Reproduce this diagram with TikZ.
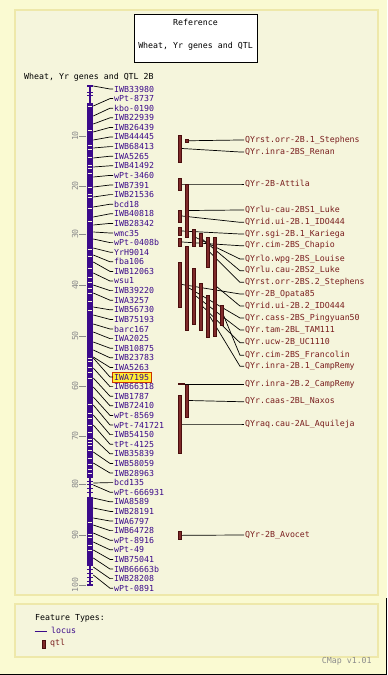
\documentclass[tikz,border=0pt]{standalone}
\usepackage{fontspec}
\newfontfamily\cmapfont{DejaVu Sans Mono}
\definecolor{outerbg}{HTML}{FAFAD2}
\definecolor{innerbg}{HTML}{F5F5DC}
\definecolor{panelborder}{HTML}{EEE8AA}
\definecolor{locuscol}{HTML}{3B0A8A}
\definecolor{qtlfill}{HTML}{7F2A2A}
\definecolor{qtledge}{HTML}{4A0E0E}
\definecolor{qtltext}{HTML}{7A1F1F}
\definecolor{axisgray}{HTML}{8C8C8C}
\definecolor{hlfill}{HTML}{FFEE33}
\definecolor{hledge}{HTML}{CC3300}
\begin{document}
\begin{tikzpicture}[x=1bp,y=-1bp,
  txt/.style={font=\cmapfont\fontsize{8.3}{9}\selectfont, inner sep=0pt},
  locuslabel/.style={txt, text=locuscol, anchor=west},
  qtllabel/.style={txt, text=qtltext, anchor=west},
  conn/.style={draw=black, line width=0.7bp},
  qtlbar/.style={draw=qtledge, fill=qtlfill, line width=0.6bp, minimum width=3.2bp, inner sep=0pt, rectangle},
  notch/.style={draw=innerbg, line width=0.9bp},
  cross/.style={draw=locuscol, line width=1bp},
  panel/.style={draw=panelborder, fill=innerbg, line width=1.5bp}]
\useasboundingbox (0,0) rectangle (387,675);
\fill[outerbg] (0,0) rectangle (387,675);
\draw[black, line width=1.4bp] (386.3,598) -- (386.3,674.3) -- (0,674.3);
% panels
\draw[panel] (15,10) rectangle (378,595);
\draw[panel] (15,604) rectangle (378,657);
% title box
\node[draw=black, fill=white, line width=0.8bp, minimum width=123bp, minimum height=48bp, inner sep=0pt] (titlebox) at (195.5,38) {};
\node[txt] (tref) at (195.5,22.5) {Reference};
\node[txt] (tname) at (195.5,46) {Wheat, Yr genes and QTL};
\node[txt, anchor=west] (maptitle) at (24,77) {Wheat, Yr genes and QTL 2B};
% axis
\foreach \c/\yy in {10/136,20/186,30/234,40/285,50/336,60/386,70/436,80/484,90/535,100/585}{
  \coordinate (tk\c) at (86,\yy);
  \draw[axisgray, line width=0.8bp] (tk\c) -- ++(-7,0);
  \node[txt, text=axisgray, rotate=90] (tl\c) at (75,\yy) {\c};
}
% chromosome
\draw[locuscol, line width=1.4bp] (90,86) -- (90,585);
\draw[cross, line width=1.4bp] (87,86) -- (93,86);
\draw[cross, line width=1.4bp] (87,585) -- (93,585);
\fill[locuscol] (86.7,103) rectangle (93.3,478);
\fill[locuscol] (86.7,497) rectangle (93.3,566);
\foreach \yy in {93,96,481,484,488,492,569,573,577,581}{
  \draw[cross] (87,\yy) -- (93,\yy);
}
\foreach \yy in {106,130,145,149,157,165,168,173,187,194,197,208,221,249,256,268,277,282,288,293,301,310,358,361,367,372,378,404,413,418,425,432,439,442,445,450,458,464,469,473,522,534,537,545,550}{
  \draw[notch] (87.7,\yy) -- (92.3,\yy);
}
% highlight
\fill[hlfill, draw=hledge, line width=0.8bp] (112.3,372) rectangle (151.5,382);
% markers
\foreach \nm/\ym [count=\i] in {IWB33980/86, wPt-8737/106, kbo-0190/116, IWB22939/124, IWB26439/132, IWB44445/140, IWB68413/148, IWA5265/158, IWB41492/167, wPt-3460/177, IWB7391/187, IWB21536/197, bcd18/207, IWB40818/217, IWB28342/225, wmc35/232, wPt-0408b/239, YrH9014/248, fba106/255, IWB12063/262, wsu1/273, IWB39220/285, IWA3257/293, IWB56730/307, IWB75193/315, barc167/324, IWA2025/332, IWB10875/342, IWB23783/350, IWA5263/357, IWA7195/358, IWB66318/368, IWB1787/378, IWB72410/387, wPt-8569/397, wPt-741721/405, IWB54150/415, tPt-4125/425, IWB35839/438, IWB58059/452, IWB28963/463, bcd135/483, wPt-666931/485, IWA8589/498, IWB28191/508, IWA6797/518, IWB64728/525, wPt-8916/533, wPt-49/542, IWB75041/550, IWB66663b/558, IWB28208/567, wPt-0891/575}{
  \pgfmathsetmacro\ly{89+9.6*(\i-1)}
  \coordinate (m\i) at (93.3,\ym);
  \coordinate (k\i) at (110,\ly);
  \node[locuslabel] (l\i) at (114,\ly) {\nm};
  \draw[conn, shorten >=0.8bp] (m\i) -- (k\i) -- (l\i.west);
}
% qtl connectors and labels
\foreach \c/\t/\b/\ly/\nm [count=\i] in {2/139/142.5/140/QYrst.orr-2B.1\_Stephens, 1/135/162/152/QYr.inra-2BS\_Renan, 1/178/190/184/QYr-2B-Attila, 2/184/237/210/QYrlu-cau-2BS1\_Luke, 1/210/222/222.3/QYrid.ui-2B.1\_IDO444, 1/227/235/234/QYr.sgi-2B.1\_Kariega, 1/238/246/245.7/QYr.cim-2BS\_Chapio, 3/229/246/259/QYrlo.wpg-2BS\_Louise, 4/233/246/270.7/QYrlu.cau-2BS2\_Luke, 5/237/267/282.3/QYrst.orr-2BS.2\_Stephens, 1/262/307/294/QYr-2B\_Opata85, 6/237/336/306/QYrid.ui-2B.2\_IDO444, 2/246/330/318/QYr.cass-2BS\_Pingyuan50, 3/268/324/330/QYr.tam-2BL\_TAM111, 4/283/330/342.7/QYr.ucw-2B\_UC1110, 7/305/325/355.3/QYr.cim-2BS\_Francolin, 5/295/337/366.3/QYr.inra-2B.1\_CampRemy, 2/384/417/401.7/QYr.caas-2BL\_Naxos, 1/395/453/424/QYraq.cau-2AL\_Aquileja, 1/531.7/539/535/QYr-2B\_Avocet}{
  \pgfmathsetmacro\xc{173.2+6.9*\c}
  \pgfmathsetmacro\m{(\t+\b)/2}
  \pgfmathsetmacro\h{\b-\t}
  \node[qtlbar, minimum height=\h bp] (q\i) at (\xc,\m) {};
  \coordinate (qk\i) at (240,\ly);
  \node[qtllabel] (ql\i) at (245,\ly) {\nm};
  \draw[conn, shorten >=0.8bp] (q\i.east) -- (qk\i) -- (ql\i.west);
}
% redraw bars on top of connectors
\foreach \c/\t/\b [count=\i] in {2/139/142.5, 1/135/162, 1/178/190, 2/184/237, 1/210/222, 1/227/235, 1/238/246, 3/229/246, 4/233/246, 5/237/267, 1/262/307, 6/237/336, 2/246/330, 3/268/324, 4/283/330, 7/305/325, 5/295/337, 2/384/417, 1/395/453, 1/531.7/539}{
  \pgfmathsetmacro\xc{173.2+6.9*\c}
  \pgfmathsetmacro\m{(\t+\b)/2}
  \pgfmathsetmacro\h{\b-\t}
  \node[qtlbar, minimum height=\h bp] (qb\i) at (\xc,\m) {};
}
% point qtl
\node[fill=qtledge, minimum width=7bp, minimum height=1.8bp, inner sep=0pt] (qcr2) at (181.6,384.3) {};
\node[qtllabel] (qlcr2) at (245,384.3) {QYr.inra-2B.2\_CampRemy};
\draw[conn, shorten >=0.8bp] (qcr2.east) -- (qlcr2.west);
% legend
\node[txt, anchor=west] (ftitle) at (35,618) {Feature Types:};
\coordinate (lgA) at (34.5,631);
\coordinate (lgB) at (46.5,631);
\draw[locuscol, line width=1bp] (lgA) -- (lgB);
\node[locuslabel] (lglocus) at (51,630.7) {locus};
\node[qtlbar, minimum height=8bp, minimum width=3bp] (lgqtl) at (44,644) {};
\node[qtllabel] (lgqtltxt) at (50,643.5) {qtl};
\node[txt, text=axisgray, anchor=west] (ver) at (321.7,661) {CMap v1.01};
\end{tikzpicture}
\end{document}
